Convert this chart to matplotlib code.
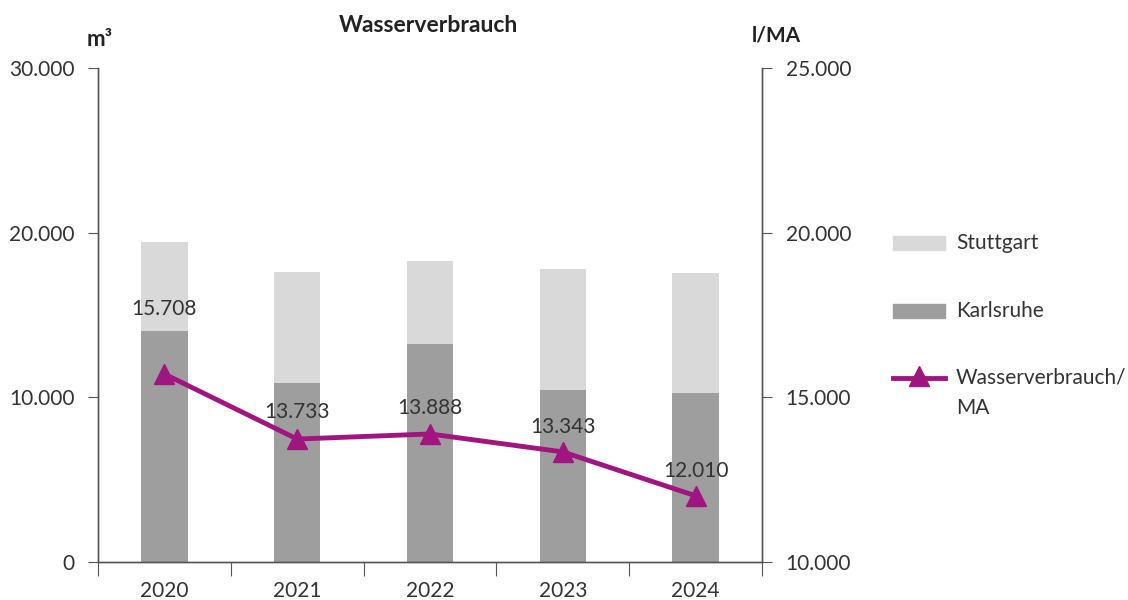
import matplotlib
matplotlib.use("Agg")
import matplotlib.pyplot as plt
from matplotlib.lines import Line2D
from matplotlib.patches import Rectangle
import numpy as np

plt.rcParams['font.family'] = ['Lato', 'DejaVu Sans']

years = ["2020", "2021", "2022", "2023", "2024"]
karlsruhe = [14030, 10870, 13240, 10440, 10260]
stuttgart = [5400, 6740, 5040, 7350, 7290]
per_ma = [15708, 13733, 13888, 13343, 12010]
per_ma_labels = ["15.708", "13.733", "13.888", "13.343", "12.010"]
left_ticks = [0, 10000, 20000, 30000]
left_labels = ["0", "10.000", "20.000", "30.000"]
right_ticks = [10000, 15000, 20000, 25000]
right_labels = ["10.000", "15.000", "20.000", "25.000"]

c_stu = "#D9D9D9"
c_ka = "#9D9E9D"
c_line = "#A0157F"
c_text = "#333333"
c_axis = "#555555"
FS = 15
FW = "normal"

fig = plt.figure(figsize=(11.28, 6.0), dpi=100)
ax = fig.add_axes([98/1128, 38/600, (762-98)/1128, (562-68)/600])
ax2 = ax.twinx()

x = np.arange(len(years))
w = 0.35
ax.bar(x, karlsruhe, w, color=c_ka, zorder=2)
ax.bar(x, stuttgart, w, bottom=karlsruhe, color=c_stu, zorder=2)
ax.set_xlim(-0.5, len(years) - 0.5)
ax.set_ylim(0, 30000)
ax.set_yticks(left_ticks)
ax.set_yticklabels(left_labels, fontweight=FW)

ax2.plot(x, per_ma, color=c_line, lw=3.5, marker="^", ms=15, zorder=5)
ax2.set_ylim(10000, 25000)
ax2.set_yticks(right_ticks)
ax2.set_yticklabels(right_labels, fontweight=FW)

offsets = [65, 27, 26, 25, 25]
for xi, v, lab, off in zip(x, per_ma, per_ma_labels, offsets):
    ax2.annotate(lab, (xi, v), xytext=(0, off), textcoords="offset pixels",
                 ha="center", va="center", fontsize=FS, color=c_text, fontweight=FW)

ax.set_xticks(np.arange(-0.5, len(years), 1.0))
ax.set_xticklabels([])
ax.set_xticks(x, minor=True)
ax.set_xticklabels(years, minor=True, fontweight=FW)
ax.tick_params(axis="x", which="major", direction="out", length=10, color=c_axis)
ax.tick_params(axis="x", which="minor", length=0, labelsize=FS, labelcolor=c_text, pad=14)
ax.tick_params(axis="y", direction="out", length=7, color=c_axis, labelsize=FS, labelcolor=c_text, pad=10)
ax2.tick_params(axis="y", direction="out", length=7, color=c_axis, labelsize=FS, labelcolor=c_text, pad=10)

for a in (ax, ax2):
    a.spines["top"].set_visible(False)
    for s in ("left", "right", "bottom"):
        a.spines[s].set_color(c_axis)
        a.spines[s].set_linewidth(1.0)

fig.text(428/1128, 1 - 26/600, "Wasserverbrauch", ha="center", va="center",
         fontsize=16.5, fontweight="bold", color="#222222")
fig.text(100/1128, 1 - 40/600, "m³", ha="center", va="center",
         fontsize=16, fontweight="bold", color="#222222")
fig.text(776/1128, 1 - 35/600, "l/MA", ha="center", va="center",
         fontsize=15, fontweight="bold", color="#222222")

# legend drawn manually in figure pixel coordinates
H = 600.0
def fx(px): return px / 1128.0
def fy(py): return 1 - py / H
fig.add_artist(Rectangle((fx(893), fy(250)), fx(52), 14/H, color=c_stu, transform=fig.transFigure))
fig.add_artist(Rectangle((fx(893), fy(318)), fx(52), 14/H, color=c_ka, transform=fig.transFigure))
fig.add_artist(Line2D([fx(893), fx(945)], [fy(378), fy(378)], color=c_line, lw=3.5,
                      transform=fig.transFigure))
fig.add_artist(Line2D([fx(919)], [fy(376)], color=c_line, marker="^", ms=15,
                      transform=fig.transFigure))
legend_labels = ["Stuttgart", "Karlsruhe", "Wasserverbrauch/", "MA"]
legend_y = [243, 311, 378, 408]
for lab, yy in zip(legend_labels, legend_y):
    fig.text(fx(956), fy(yy), lab, ha="left", va="center", fontsize=FS,
             color=c_text, fontweight=FW)

fig.savefig("out.png", dpi=100)
